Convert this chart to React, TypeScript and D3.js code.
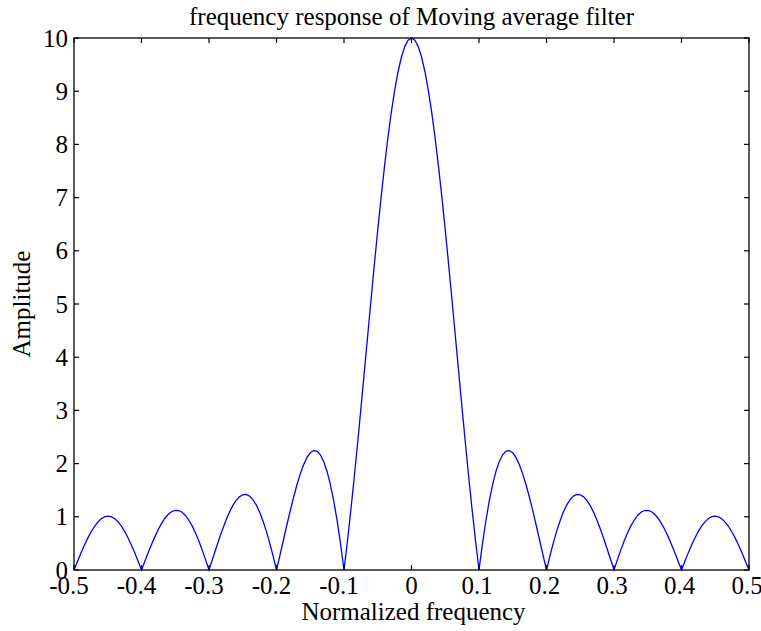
import React from "react";
import * as d3 from "d3";

const TITLE = "frequency response of Moving average filter";
const X_LABEL = "Normalized frequency";
const Y_LABEL = "Amplitude";
const X_TICKS = [-0.5, -0.4, -0.3, -0.2, -0.1, 0, 0.1, 0.2, 0.3, 0.4, 0.5];
const Y_TICKS = [0, 1, 2, 3, 4, 5, 6, 7, 8, 9, 10];

// amplitude for f = 0, 0.005, ..., 0.5
const POS_AMP = [
  10, 9.959, 9.838, 9.638, 9.361, 9.012, 8.597, 8.12, 7.588, 7.01, 6.393, 5.745, 5.076, 4.394, 3.709, 3.029,
  2.364, 1.721, 1.108, 0.532, 0, 0.483, 0.912, 1.284, 1.597, 1.848, 2.037, 2.165, 2.234, 2.245, 2.203,
  2.111, 1.974, 1.798, 1.589, 1.353, 1.097, 0.827, 0.55, 0.272, 0, 0.261, 0.504, 0.726, 0.922, 1.089,
  1.223, 1.324, 1.389, 1.419, 1.414, 1.375, 1.305, 1.205, 1.079, 0.93, 0.763, 0.582, 0.391, 0.196, 0,
  0.191, 0.374, 0.543, 0.696, 0.829, 0.94, 1.026, 1.085, 1.118, 1.122, 1.1, 1.051, 0.978, 0.882, 0.765,
  0.632, 0.485, 0.328, 0.165, 0, 0.164, 0.322, 0.471, 0.607, 0.727, 0.829, 0.91, 0.968, 1.003, 1.012,
  0.998, 0.959, 0.896, 0.813, 0.709, 0.589, 0.454, 0.309, 0.156, 0,
];
const STEP = 0.005;
const AMPLITUDE = [...POS_AMP.slice(1).reverse(), ...POS_AMP];
const FREQ = AMPLITUDE.map((_, i) => -0.5 + i * STEP);

const W = 761;
const H = 631;
const M = { left: 74, right: 749, top: 38, bottom: 570 };
const FONT = "'Liberation Serif', 'Times New Roman', serif";
const FS = 25;

export default function App() {
  const x = d3.scaleLinear().domain([-0.5, 0.5]).range([M.left, M.right]);
  const y = d3.scaleLinear().domain([0, 10]).range([M.bottom, M.top]);
  const line = d3
    .line<number>()
    .x((_, i) => x(FREQ[i]))
    .y((d) => y(d));
  const T = 5;
  return (
    <svg
      width={W}
      height={H}
      style={{ position: "absolute", left: 0, top: 0, background: "#fff" }}
      fontFamily={FONT}
    >
      <rect x={0} y={0} width={W} height={H} fill="#fff" />
      <path d={line(AMPLITUDE) || ""} fill="none" stroke="#0000ff" strokeWidth={1.3} />
      <rect
        x={M.left}
        y={M.top}
        width={M.right - M.left}
        height={M.bottom - M.top}
        fill="none"
        stroke="#000"
        strokeWidth={1.3}
      />
      {X_TICKS.map((t) => (
        <g key={"x" + t}>
          <line x1={x(t)} x2={x(t)} y1={M.bottom} y2={M.bottom - T} stroke="#000" strokeWidth={1.2} />
          <line x1={x(t)} x2={x(t)} y1={M.top} y2={M.top + T} stroke="#000" strokeWidth={1.2} />
          <text
            x={x(t) + (t < 0 ? -5 : t > 0 ? -2 : 0)}
            y={594}
            textAnchor="middle"
            fontSize={FS}
            fill="#000"
          >
            {String(t)}
          </text>
        </g>
      ))}
      {Y_TICKS.map((t) => (
        <g key={"y" + t}>
          <line x1={M.left} x2={M.left + T} y1={y(t)} y2={y(t)} stroke="#000" strokeWidth={1.2} />
          <line x1={M.right} x2={M.right - T} y1={y(t)} y2={y(t)} stroke="#000" strokeWidth={1.2} />
          <text x={68} y={y(t) + 8.5} textAnchor="end" fontSize={FS} fill="#000">
            {String(t)}
          </text>
        </g>
      ))}
      <text x={(M.left + M.right) / 2} y={25} textAnchor="middle" fontSize={FS} fill="#000">
        {TITLE}
      </text>
      <text x={(M.left + M.right) / 2 + 2} y={620} textAnchor="middle" fontSize={FS} fill="#000">
        {X_LABEL}
      </text>
      <text
        transform={`translate(30, ${(M.top + M.bottom) / 2}) rotate(-90)`}
        textAnchor="middle"
        fontSize={FS}
        fill="#000"
      >
        {Y_LABEL}
      </text>
    </svg>
  );
}
